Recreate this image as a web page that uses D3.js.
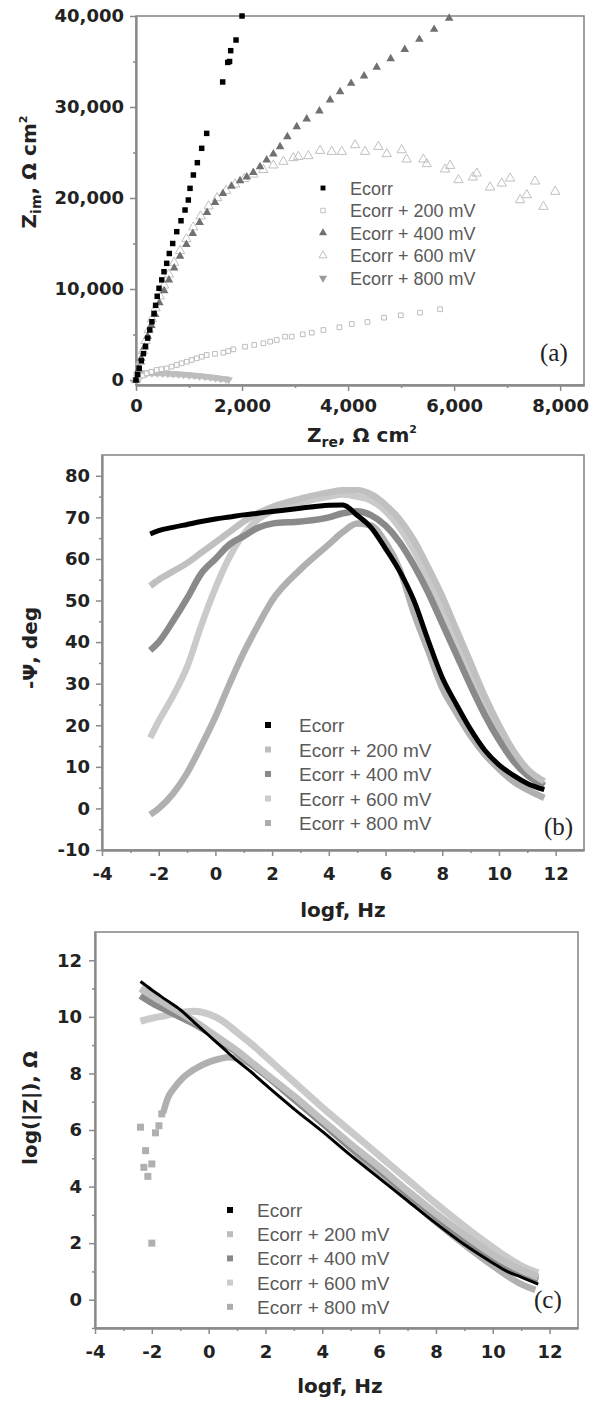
<!DOCTYPE html>
<html>
<head>
<meta charset="utf-8">
<script src="https://cdn.jsdelivr.net/npm/d3@7"></script>
<style>
  body { margin: 0; background: #fff; }
</style>
</head>
<body>
<div id="container"></div>
<script>
/* CONSTANTS AND GLOBALS */
const width = 598, height = 1402
const axisColor = "#8a8a8a"
const tickFont = "DejaVu Sans"

const seriesNames = ["Ecorr", "Ecorr + 200 mV", "Ecorr + 400 mV", "Ecorr + 600 mV", "Ecorr + 800 mV"]

/* DATA */
// (a) Nyquist plot, [Zre, Zim] in ohm cm2
const nyqEcorr = [[0,0],[30,600],[60,1300],[100,2100],[140,2900],[180,3700],[220,4600],[260,5500],[300,6400],[340,7300],[370,8200],[400,9200],[434,10080],[485,11000],[528,11900],[579,12820],[628,13900],[692,15000],[768,16300],[849,17500],[925,18680],[987,19780],[1019,21060],[1082,22530],[1157,23880],[1239,25460],[1333,27100],[1635,32750],[1730,34900],[1765,35000],[1786,36190],[1887,37360],[2000,40000]]
const nyq200 = [[0,0],[40,150],[75,370],[130,500],[200,730],[290,900],[390,1100],[480,1190],[579,1280],[670,1470],[768,1650],[860,1830],[957,2010],[1050,2200],[1145,2380],[1240,2560],[1334,2750],[1490,2870],[1648,3000],[1740,3180],[1836,3370],[2057,3660],[2230,3850],[2402,4030],[2530,4220],[2654,4400],[2811,4760],[2937,4760],[3145,5020],[3315,5200],[3535,5490],[3836,5790],[4070,6150],[4365,6370],[4679,6850],[4994,7110],[5358,7400],[5736,7770]]
const nyq400 = [[0,0],[50,1200],[100,2400],[160,3600],[220,4800],[290,6000],[360,7200],[440,8500],[530,9800],[620,11000],[720,12300],[830,13600],[950,14900],[1070,16100],[1200,17300],[1340,18400],[1490,19500],[1640,20500],[1800,21300],[1962,21900],[2089,22300],[2213,22800],[2340,23440],[2465,24180],[2591,24840],[2717,25640],[2855,26740],[3032,27840],[3220,28680],[3459,29560],[3660,30770],[3849,31680],[4057,32600],[4302,33400],[4540,34360],[4804,35300],[5069,36330],[5345,37430],[5623,38530],[5906,39750]]
const nyq600 = [[0,0],[40,1000],[80,2000],[130,3200],[180,4300],[240,5500],[300,6700],[370,7900],[450,9200],[530,10400],[620,11600],[720,12900],[830,14200],[950,15500],[1080,16800],[1220,18000],[1370,19100],[1530,20000],[1700,20800],[1870,21500],[2040,22100],[2213,22600],[2402,23100],[2591,23600],[2780,24000],[2968,24400],[3062,24540],[3251,24620],[3472,25200],[3692,25090],[3881,25090],[4132,25820],[4321,25090],[4572,25640],[4730,24840],[5012,25270],[5106,24250],[5420,24250],[5483,23740],[5830,23150],[5925,23550],[6082,21980],[6352,22270],[6428,22710],[6679,21170],[6899,21610],[7057,22160],[7245,19780],[7371,20330],[7528,21830],[7685,19050],[7906,20700]]
const nyq800 = [[0,0],[20,300],[50,550],[100,700],[200,750],[300,760],[400,750],[500,730],[600,700],[700,670],[800,630],[900,590],[1000,540],[1100,490],[1200,430],[1300,370],[1400,300],[1500,230],[1600,150],[1700,80],[1750,30]]

// (b) Bode phase, -phase in deg vs log f
const logfB = [-2.3,-2,-1.5,-1,-0.5,0,0.5,1,1.5,2,3,4,4.5,5,5.5,6,6.5,7,7.5,8,8.5,9,9.5,10,10.5,11,11.6]
const phaseEcorr = [66,66.8,67.6,68.3,69,69.6,70.1,70.6,71,71.4,72.2,72.9,73,70.5,67.5,62.5,57,50,40.5,31.5,25,19,14,10.5,8,6,4.5]
const phase200 = [53.5,55,57,59,61.5,64,66.5,69,71,72.5,74.5,76,76.5,76.5,75.5,73,69.5,64.5,58,51,43,35,27,20,14,9.5,6.5]
const phase400 = [38,40,45,50.5,56.5,60,63.5,65.5,67.5,68.5,69,70,71,71.5,70.5,68,64,58.5,52,44.5,37,29.5,22.5,16.5,11.5,8,5.5]
const phase600 = [17,21,27,34,44,53,60.5,66,69.5,71.5,73.5,75,75.5,75,74,71.5,67.5,62,55.5,48,40,32,24.5,18,12.5,8.5,5.5]
const phase800 = [-1.5,0,3.5,8.5,15,22,30,37.5,44,50,57.5,63.5,66.5,68.5,68,64,57.5,47,38,29,23,17.5,13,9.5,6.5,4.5,2.5]

// (c) Bode modulus, log|Z| vs log f
const logfC = [-2.4,-2,-1.5,-1,-0.5,0,0.5,1,1.5,2,3,4,5,6,7,8,9,10,10.5,11,11.6]
const modEcorr = [11.25,10.95,10.6,10.25,9.8,9.35,8.9,8.45,8.05,7.6,6.75,5.95,5.1,4.3,3.5,2.7,1.95,1.3,1.0,0.8,0.55]
const mod200 = [11.0,10.75,10.45,10.15,9.85,9.5,9.15,8.8,8.4,8.0,7.2,6.35,5.5,4.7,3.85,3.05,2.3,1.6,1.3,1.05,0.8]
const mod400 = [10.75,10.5,10.25,10.0,9.75,9.45,9.1,8.75,8.35,7.95,7.1,6.25,5.4,4.6,3.75,2.95,2.15,1.45,1.15,0.9,0.7]
const mod600 = [9.85,9.95,10.05,10.15,10.2,10.1,9.85,9.45,9.05,8.6,7.7,6.8,5.95,5.1,4.25,3.4,2.6,1.85,1.5,1.2,0.95]
const logf800C = [-1.6,-1.45,-1.2,-0.9,-0.5,0,0.4,0.7,1,1.3,2,3,4,5,6,7,8,9,10,10.5,11,11.5]
const mod800 = [6.6,7.1,7.5,7.85,8.15,8.4,8.52,8.57,8.52,8.42,7.95,7.15,6.25,5.35,4.45,3.6,2.75,1.95,1.2,0.85,0.55,0.35]
const logf800Scatter = [-2.4,-2.28,-2.22,-2.14,-2.0,-2.0,-1.87,-1.75,-1.65]
const mod800Scatter = [6.1,4.68,5.27,4.36,4.8,2.0,5.9,6.15,6.57]

// ticks
const ticksAX = [0,2000,4000,6000,8000], minorAX = [1000,3000,5000,7000]
const ticksAY = [0,10000,20000,30000,40000], minorAY = [5000,15000,25000,35000]
const ticksLogf = [-4,-2,0,2,4,6,8,10,12], minorLogf = [-3,-1,1,3,5,7,9,11]
const ticksBY = [-10,0,10,20,30,40,50,60,70,80], minorBY = [-5,5,15,25,35,45,55,65,75]
const ticksCY = [0,2,4,6,8,10,12], minorCY = [-1,1,3,5,7,9,11]

/* HTML ELEMENTS */
const svg = d3.select("#container")
  .append("svg")
  .attr("width", width)
  .attr("height", height)

// draws the frame, major and minor ticks of one panel
function drawAxes(p) {
  const g = svg.append("g")
  g.append("rect")
    .attr("x", p.left).attr("y", p.top)
    .attr("width", p.right - p.left).attr("height", p.bottom - p.top)
    .attr("fill", "none").attr("stroke", axisColor).attr("stroke-width", 1.6)

  g.append("g").attr("transform", `translate(0,${p.bottom})`)
    .call(d3.axisBottom(p.x).tickValues(p.xMinor).tickSize(3).tickSizeOuter(0).tickFormat(""))
  g.append("g").attr("transform", `translate(0,${p.bottom})`)
    .call(d3.axisBottom(p.x).tickValues(p.xTicks).tickSize(6).tickSizeOuter(0).tickPadding(p.xPad).tickFormat(p.fmt))
  g.append("g").attr("transform", `translate(${p.left},0)`)
    .call(d3.axisLeft(p.y).tickValues(p.yMinor).tickSize(3).tickSizeOuter(0).tickFormat(""))
  g.append("g").attr("transform", `translate(${p.left},0)`)
    .call(d3.axisLeft(p.y).tickValues(p.yTicks).tickSize(6).tickSizeOuter(0).tickPadding(p.yPad).tickFormat(p.fmt))

  g.selectAll(".domain").attr("stroke", axisColor).attr("stroke-width", 1.8)
  g.selectAll(".tick line").attr("stroke", axisColor).attr("stroke-width", 1.5)
  g.selectAll(".tick text")
    .attr("font-family", tickFont)
    .attr("font-weight", "bold")
    .attr("font-size", 18)
    .attr("fill", "#222")
}

function yTitle(x, y, parts) {
  const t = svg.append("text")
    .attr("transform", `translate(${x},${y}) rotate(-90)`)
    .attr("text-anchor", "middle")
    .attr("font-family", tickFont).attr("font-weight", "bold")
    .attr("font-size", 20).attr("fill", "#222")
  parts.forEach(s => t.append("tspan").attr("dy", s.dy || 0).attr("font-size", s.size || 20).text(s.t))
}

function xTitle(x, y, parts) {
  const t = svg.append("text")
    .attr("x", x).attr("y", y)
    .attr("text-anchor", "middle")
    .attr("font-family", tickFont).attr("font-weight", "bold")
    .attr("font-size", 20).attr("fill", "#222")
  parts.forEach(s => t.append("tspan").attr("dy", s.dy || 0).attr("font-size", s.size || 20).text(s.t))
}

function panelLabel(x, y, s) {
  svg.append("text").attr("x", x).attr("y", y)
    .attr("font-family", "Liberation Serif").attr("font-size", 25).attr("fill", "#222")
    .text(s)
}

const zTitle = sub => [
  { t: "Z" }, { t: sub, size: 14, dy: 5 }, { t: ", Ω cm", dy: -5 }, { t: "2", size: 11, dy: -9 }
]

/* PANEL (a) */
const xA = d3.scaleLinear().domain([0, 8450]).range([136, 584])
const yA = d3.scaleLinear().domain([-550, 40000]).range([385, 16])

drawAxes({ left: 136, right: 584, top: 16, bottom: 385, x: xA, y: yA,
  xTicks: ticksAX, xMinor: minorAX, yTicks: ticksAY, yMinor: minorAY,
  fmt: d3.format(","), xPad: 8, yPad: 6 })

const gA = svg.append("g")
const sym = (type, size) => d3.symbol().type(type).size(size)()

// +800 mV: dense band of down triangles
gA.append("path")
  .datum(nyq800)
  .attr("d", d3.line().x(d => xA(d[0])).y(d => yA(d[1])).curve(d3.curveMonotoneX))
  .attr("fill", "none").attr("stroke", "#c2c2c2").attr("stroke-width", 6)
gA.selectAll(".p800").data(nyq800).join("path").attr("class", "p800")
  .attr("d", sym(d3.symbolTriangle, 30))
  .attr("transform", d => `translate(${xA(d[0])},${yA(d[1])}) rotate(180)`)
  .attr("fill", "#bdbdbd")

gA.selectAll(".p200").data(nyq200).join("path").attr("class", "p200")
  .attr("d", sym(d3.symbolSquare, 22))
  .attr("transform", d => `translate(${xA(d[0])},${yA(d[1])})`)
  .attr("fill", "#fff").attr("stroke", "#bcbcbc").attr("stroke-width", 1)

gA.selectAll(".p600").data(nyq600).join("path").attr("class", "p600")
  .attr("d", sym(d3.symbolTriangle, 38))
  .attr("transform", d => `translate(${xA(d[0])},${yA(d[1])})`)
  .attr("fill", "none").attr("stroke", "#c0c0c0").attr("stroke-width", 1)

gA.selectAll(".p400").data(nyq400).join("path").attr("class", "p400")
  .attr("d", sym(d3.symbolTriangle, 32))
  .attr("transform", d => `translate(${xA(d[0])},${yA(d[1])})`)
  .attr("fill", "#707070")

gA.selectAll(".pE").data(nyqEcorr).join("path").attr("class", "pE")
  .attr("d", sym(d3.symbolSquare, 30))
  .attr("transform", d => `translate(${xA(d[0])},${yA(d[1])})`)
  .attr("fill", "#000")

// legend (a)
const legA = [
  { type: d3.symbolSquare, size: 24, fill: "#000", stroke: "none", rot: 0 },
  { type: d3.symbolSquare, size: 20, fill: "#fff", stroke: "#c0c0c0", rot: 0 },
  { type: d3.symbolTriangle, size: 28, fill: "#707070", stroke: "none", rot: 0 },
  { type: d3.symbolTriangle, size: 28, fill: "none", stroke: "#c0c0c0", rot: 0 },
  { type: d3.symbolTriangle, size: 28, fill: "#9a9a9a", stroke: "none", rot: 180 }
]
legA.forEach((m, i) => {
  const cy = 188 + i * 22.5
  svg.append("path").attr("d", sym(m.type, m.size))
    .attr("transform", `translate(323,${cy}) rotate(${m.rot})`)
    .attr("fill", m.fill).attr("stroke", m.stroke)
  svg.append("text").attr("x", 350).attr("y", cy + 6.5)
    .attr("font-family", "Liberation Sans").attr("font-size", 18).attr("fill", "#5a5a5a")
    .text(seriesNames[i])
})

xTitle(362, 442, zTitle("re"))
yTitle(36, 172, zTitle("im"))
panelLabel(540, 361, "(a)")

/* PANEL (b) */
const xB = d3.scaleLinear().domain([-4, 13]).range([102, 584])
const yB = d3.scaleLinear().domain([-10, 85]).range([850, 455])

drawAxes({ left: 102, right: 584, top: 455, bottom: 850, x: xB, y: yB,
  xTicks: ticksLogf, xMinor: minorLogf, yTicks: ticksBY, yMinor: minorBY,
  fmt: d => String(d), xPad: 11, yPad: 6 })

const colorsBC = ["#000", "#c0c0c0", "#8a8a8a", "#cacaca", "#b0b0b0"]
const lineB = d3.line().x(d => xB(d[0])).y(d => yB(d[1])).curve(d3.curveMonotoneX)
const phaseSeries = [phaseEcorr, phase200, phase400, phase600, phase800]
const orderB = [4, 3, 2, 1, 0]
orderB.forEach(k => {
  svg.append("path")
    .datum(logfB.map((f, i) => [f, phaseSeries[k][i]]))
    .attr("d", lineB)
    .attr("fill", "none")
    .attr("stroke", colorsBC[k])
    .attr("stroke-width", k === 0 ? 5 : 6.5)
    .attr("stroke-linejoin", "round")
})

function bcLegend(mx, tx, y0, step) {
  const legColors = ["#000", "#bdbdbd", "#8a8a8a", "#cccccc", "#adadad"]
  seriesNames.forEach((s, i) => {
    const cy = y0 + i * step
    svg.append("rect").attr("x", mx - 3).attr("y", cy - 3).attr("width", 6).attr("height", 6)
      .attr("fill", legColors[i])
    svg.append("text").attr("x", tx).attr("y", cy + 7)
      .attr("font-family", "Liberation Sans").attr("font-size", 19).attr("fill", "#5a5a5a")
      .text(s)
  })
}
bcLegend(268, 299, 725, 24.5)

xTitle(343, 917, [{ t: "logf, Hz" }])
yTitle(37, 648, [{ t: "-Ψ,  deg" }])
panelLabel(544, 835, "(b)")

/* PANEL (c) */
const xC = d3.scaleLinear().domain([-4, 13]).range([95, 578])
const yC = d3.scaleLinear().domain([-1, 13]).range([1328, 932])

drawAxes({ left: 95, right: 578, top: 932, bottom: 1328, x: xC, y: yC,
  xTicks: ticksLogf, xMinor: minorLogf, yTicks: ticksCY, yMinor: minorCY,
  fmt: d => String(d), xPad: 11, yPad: 7 })

const lineC = d3.line().x(d => xC(d[0])).y(d => yC(d[1])).curve(d3.curveMonotoneX)
const modSeries = [modEcorr, mod200, mod400, mod600]

svg.append("path")
  .datum(logf800C.map((f, i) => [f, mod800[i]]))
  .attr("d", lineC).attr("fill", "none")
  .attr("stroke", colorsBC[4]).attr("stroke-width", 6.5)
svg.selectAll(".s800").data(logf800Scatter.map((f, i) => [f, mod800Scatter[i]]))
  .join("rect").attr("class", "s800")
  .attr("x", d => xC(d[0]) - 3.5).attr("y", d => yC(d[1]) - 3.5)
  .attr("width", 7).attr("height", 7)
  .attr("fill", colorsBC[4])

;[3, 2, 1, 0].forEach(k => {
  svg.append("path")
    .datum(logfC.map((f, i) => [f, modSeries[k][i]]))
    .attr("d", lineC)
    .attr("fill", "none")
    .attr("stroke", colorsBC[k])
    .attr("stroke-width", k === 0 ? 3 : 7)
})

bcLegend(230, 257, 1210, 24.2)

xTitle(340, 1393, [{ t: "logf, Hz" }])
yTitle(37, 1108, [{ t: "log(|Z|), Ω" }])
panelLabel(534, 1308, "(c)")
</script>
</body>
</html>
